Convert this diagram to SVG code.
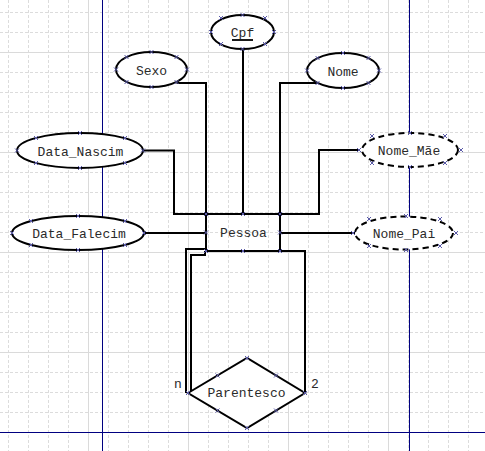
<svg xmlns="http://www.w3.org/2000/svg" xmlns:xlink="http://www.w3.org/1999/xlink" width="485" height="451" viewBox="0 0 485 451">
<style>
.minor{stroke:#dcdcdc;stroke-width:1;stroke-dasharray:3 2;fill:none}
.major{stroke:#dadada;stroke-width:1;fill:none}
.page{stroke:#000080;stroke-width:1;fill:none}
.conn{stroke:#000;stroke-width:2;fill:none}
.attr{fill:#fff;stroke:#000;stroke-width:2}
.derived{fill:#fff;stroke:#000;stroke-width:2;stroke-dasharray:6 4}
.ent{fill:none;stroke:#000;stroke-width:2}
.rel{fill:#fff;stroke:#000;stroke-width:2}
.lbl{font-family:"Liberation Mono","DejaVu Sans Mono",monospace;font-size:13px;fill:#2a2a2a;text-anchor:middle}
.h{stroke:#5a5aa8;stroke-width:1;fill:none}
</style>
<defs>
<path id="hx" class="h" d="M-2,-2L2,2M-2,2L2,-2"/>
</defs>
<rect width="485" height="451" fill="#fff"/>
<g id="grid">
<path class="minor" d="M8.5 0V451M28.5 0V451M48.5 0V451M68.5 0V451M108.5 0V451M128.5 0V451M148.5 0V451M168.5 0V451M208.5 0V451M228.5 0V451M248.5 0V451M268.5 0V451M308.5 0V451M328.5 0V451M348.5 0V451M368.5 0V451M408.5 0V451M428.5 0V451M448.5 0V451M468.5 0V451"/>
<path class="minor" d="M0 12.5H485M0 32.5H485M0 72.5H485M0 92.5H485M0 112.5H485M0 132.5H485M0 172.5H485M0 192.5H485M0 212.5H485M0 232.5H485M0 272.5H485M0 292.5H485M0 312.5H485M0 332.5H485M0 372.5H485M0 392.5H485M0 412.5H485M0 432.5H485"/>
<path class="major" d="M88.5 0V451M188.5 0V451M288.5 0V451M388.5 0V451M0 52.5H485M0 152.5H485M0 252.5H485M0 352.5H485"/>
</g>
<g id="page-breaks">
<path class="page" d="M102.5 0V451M409.5 0V451M0 432.5H485"/>
</g>
<g id="connectors">
<path class="conn" d="M176.5,83 H206 V214"/>
<path class="conn" d="M243,49 V214"/>
<path class="conn" d="M318,83 H280 V214"/>
<path class="conn" d="M143,150.5 H174 V214 H206"/>
<path class="conn" d="M144,233 H206"/>
<path class="conn" d="M359,150 H319 V214 H280"/>
<path class="conn" d="M280,233 H355"/>
<path class="conn" d="M206,249 H186 V393"/>
<path class="conn" d="M205,251 V255 H191 V393"/>
<path class="conn" d="M280,251 H305 V393"/>
</g>
<g id="Pessoa">
<rect class="ent" x="206" y="214" width="74" height="37"/>
<text class="lbl" x="243.5" y="237">Pessoa</text>
</g>
<g id="Cpf">
<ellipse class="attr" cx="242.5" cy="32" rx="31.5" ry="17"/>
<text class="lbl" x="242.5" y="36.5">Cpf</text>
<rect x="232" y="39" width="21" height="2" fill="#1a1a1a"/>
</g>
<g id="Sexo">
<ellipse class="attr" cx="151.5" cy="69.5" rx="35.5" ry="17.5"/>
<text class="lbl" x="151.5" y="74.5">Sexo</text>
</g>
<g id="Nome">
<ellipse class="attr" cx="343" cy="70.5" rx="36" ry="17.5"/>
<text class="lbl" x="343" y="75.5">Nome</text>
</g>
<g id="Data_Nascim">
<ellipse class="attr" cx="80" cy="150.5" rx="63" ry="17.5"/>
<text class="lbl" x="80.5" y="155.5">Data_Nascim</text>
</g>
<g id="Data_Falecim">
<ellipse class="attr" cx="78" cy="233" rx="66" ry="17"/>
<text class="lbl" x="79" y="238">Data_Falecim</text>
</g>
<g id="Nome_Mae">
<ellipse class="derived" cx="410" cy="150" rx="48" ry="17"/>
<text class="lbl" x="409" y="155">Nome_Mãe</text>
</g>
<g id="Nome_Pai">
<ellipse class="derived" cx="404" cy="233" rx="49" ry="16.5"/>
<text class="lbl" x="404" y="238">Nome_Pai</text>
</g>
<g id="Parentesco">
<polygon class="rel" points="188,393 247,358 305,393 247,428"/>
<text class="lbl" x="246.5" y="397">Parentesco</text>
</g>
<g id="cardinalities">
<text class="lbl" x="178" y="388">n</text>
<text class="lbl" x="315" y="388">2</text>
</g>
<g id="handles">
<use xlink:href="#hx" x="242.5" y="15"/><use xlink:href="#hx" x="242.5" y="49"/><use xlink:href="#hx" x="211" y="32"/><use xlink:href="#hx" x="274" y="32"/><use xlink:href="#hx" x="221" y="18"/><use xlink:href="#hx" x="265" y="18"/><use xlink:href="#hx" x="221" y="44"/><use xlink:href="#hx" x="265" y="44"/>
<use xlink:href="#hx" x="151.5" y="52"/><use xlink:href="#hx" x="151.5" y="87"/><use xlink:href="#hx" x="116" y="69.5"/><use xlink:href="#hx" x="187" y="69.5"/><use xlink:href="#hx" x="126.5" y="57"/><use xlink:href="#hx" x="176.5" y="57"/><use xlink:href="#hx" x="126.5" y="82"/><use xlink:href="#hx" x="176.5" y="82"/>
<use xlink:href="#hx" x="343" y="53"/><use xlink:href="#hx" x="343" y="88"/><use xlink:href="#hx" x="307" y="70.5"/><use xlink:href="#hx" x="379" y="70.5"/><use xlink:href="#hx" x="317.5" y="58"/><use xlink:href="#hx" x="368.5" y="58"/><use xlink:href="#hx" x="317.5" y="83"/><use xlink:href="#hx" x="368.5" y="83"/>
<use xlink:href="#hx" x="80" y="133"/><use xlink:href="#hx" x="80" y="168"/><use xlink:href="#hx" x="17" y="150.5"/><use xlink:href="#hx" x="143" y="150.5"/><use xlink:href="#hx" x="36" y="138"/><use xlink:href="#hx" x="125" y="138"/><use xlink:href="#hx" x="36" y="163"/><use xlink:href="#hx" x="125" y="163"/>
<use xlink:href="#hx" x="78" y="216"/><use xlink:href="#hx" x="78" y="250"/><use xlink:href="#hx" x="12" y="233"/><use xlink:href="#hx" x="144" y="233"/><use xlink:href="#hx" x="31" y="221"/><use xlink:href="#hx" x="125" y="221"/><use xlink:href="#hx" x="31" y="245"/><use xlink:href="#hx" x="125" y="245"/>
<use xlink:href="#hx" x="410" y="133"/><use xlink:href="#hx" x="410" y="167"/><use xlink:href="#hx" x="359" y="150"/><use xlink:href="#hx" x="461" y="150"/><use xlink:href="#hx" x="372" y="136"/><use xlink:href="#hx" x="445" y="136"/><use xlink:href="#hx" x="372" y="163"/><use xlink:href="#hx" x="445" y="163"/>
<use xlink:href="#hx" x="406" y="216"/><use xlink:href="#hx" x="406" y="250"/><use xlink:href="#hx" x="353" y="233"/><use xlink:href="#hx" x="456" y="233"/><use xlink:href="#hx" x="369" y="219"/><use xlink:href="#hx" x="440" y="219"/><use xlink:href="#hx" x="369" y="246"/><use xlink:href="#hx" x="440" y="246"/>
<use xlink:href="#hx" x="206" y="214"/><use xlink:href="#hx" x="243" y="214"/><use xlink:href="#hx" x="280" y="214"/><use xlink:href="#hx" x="206" y="232.5"/><use xlink:href="#hx" x="280" y="232.5"/><use xlink:href="#hx" x="206" y="251"/><use xlink:href="#hx" x="243" y="251"/><use xlink:href="#hx" x="280" y="251"/>
<use xlink:href="#hx" x="188" y="393"/><use xlink:href="#hx" x="247" y="358"/><use xlink:href="#hx" x="305" y="393"/><use xlink:href="#hx" x="247" y="428"/><use xlink:href="#hx" x="217.5" y="375.5"/><use xlink:href="#hx" x="276" y="375.5"/><use xlink:href="#hx" x="217.5" y="410.5"/><use xlink:href="#hx" x="276" y="410.5"/>
</g>
</svg>
